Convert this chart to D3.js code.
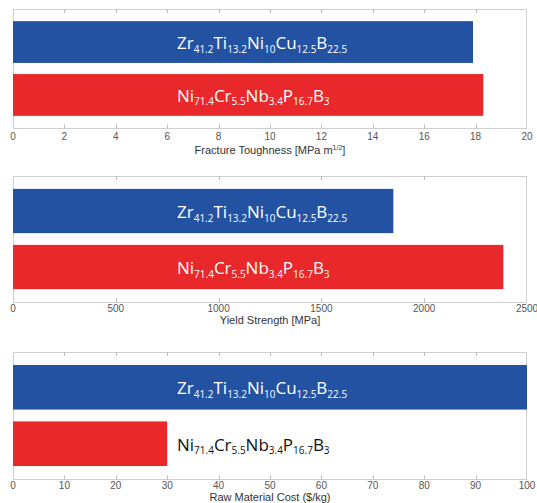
<!DOCTYPE html>
<html>
<head>
<meta charset="utf-8">
<script src="https://cdn.jsdelivr.net/npm/d3@7"></script>
<style>
  body { margin: 0; background: #fff; }
  .tick-label { font-family: "Liberation Sans", Arial, sans-serif; font-size: 10px; fill: #555; }
  .axis-title { font-family: "Liberation Sans", Arial, sans-serif; font-size: 11px; fill: #333; }
  .bar-label { font-family: "Open Sans", sans-serif; font-size: 17px; }
</style>
</head>
<body>
<div id="chart"></div>
<script>
// alloy names, split into [element, subscript] pairs
var alloys = [
  [["Zr", "41.2"], ["Ti", "13.2"], ["Ni", "10"], ["Cu", "12.5"], ["B", "22.5"]],
  [["Ni", "71.4"], ["Cr", "5.5"], ["Nb", "3.4"], ["P", "16.7"], ["B", "3"]]
];
var barColors = ["#2352a2", "#e8282a"];

var toughness = [17.9, 18.3];
var yieldStrength = [1850, 2385];
var rawCost = [100, 30];

var toughnessTicks = [0, 2, 4, 6, 8, 10, 12, 14, 16, 18, 20];
var strengthTicks = [0, 500, 1000, 1500, 2000, 2500];
var costTicks = [0, 10, 20, 30, 40, 50, 60, 70, 80, 90, 100];

var svgWidth = 537;
var svgHeight = 503;

var svg = d3.select("#chart")
  .append("svg")
  .attr("width", svgWidth)
  .attr("height", svgHeight);

// panel layout
var panels = [
  { values: toughness, ticks: toughnessTicks, max: 20, top: 9, bottom: 128, tickY: 140, titleY: 154,
    title: "Fracture Toughness [MPa m", sup: "1/2", after: "]", labelColors: ["#fff", "#fff"] },
  { values: yieldStrength, ticks: strengthTicks, max: 2500, top: 176, bottom: 302, tickY: 312, titleY: 324,
    title: "Yield Strength [MPa]", labelColors: ["#fff", "#fff"] },
  { values: rawCost, ticks: costTicks, max: 100, top: 352, bottom: 479, tickY: 489, titleY: 501,
    title: "Raw Material Cost ($/kg)", labelColors: ["#fff", "#111"] }
];

var left = 13, right = 527;

panels.forEach(function(p) {
  var x = d3.scaleLinear().domain([0, p.max]).range([left, right]);
  var y = d3.scaleBand().domain([0, 1]).range([p.top, p.bottom])
    .paddingInner(0.21).paddingOuter(0.23);

  var g = svg.append("g");

  // frame
  g.append("rect")
    .attr("x", left + 0.5)
    .attr("y", p.top + 0.5)
    .attr("width", right - left - 1)
    .attr("height", p.bottom - p.top)
    .attr("fill", "none")
    .attr("stroke", "#cfcfcf");

  // inner tick marks, top and bottom
  g.selectAll(".tt").data(p.ticks.slice(1, -1)).enter()
    .append("line")
    .attr("x1", d => Math.round(x(d)) + 0.5)
    .attr("x2", d => Math.round(x(d)) + 0.5)
    .attr("y1", p.top)
    .attr("y2", p.top + 4)
    .attr("stroke", "#bbb");
  g.selectAll(".bt").data(p.ticks.slice(1, -1)).enter()
    .append("line")
    .attr("x1", d => Math.round(x(d)) + 0.5)
    .attr("x2", d => Math.round(x(d)) + 0.5)
    .attr("y1", p.bottom + 0.5)
    .attr("y2", p.bottom - 3.5)
    .attr("stroke", "#bbb");

  // bars
  g.selectAll(".bar").data(p.values).enter()
    .append("rect")
    .attr("x", x(0))
    .attr("y", (d, i) => y(i))
    .attr("width", d => x(d) - x(0))
    .attr("height", y.bandwidth())
    .attr("fill", (d, i) => barColors[i]);

  // alloy labels with subscripts
  alloys.forEach(function(parts, i) {
    var t = g.append("text")
      .attr("class", "bar-label")
      .attr("x", 177)
      .attr("y", y(i) + y.bandwidth() / 2 + 7)
      .attr("fill", p.labelColors[i]);
    parts.forEach(function(pt, k) {
      t.append("tspan").attr("dy", k === 0 ? 0 : -3.5).text(pt[0]);
      t.append("tspan")
        .attr("font-size", "10px")
        .attr("dy", 3.5)
        .text(pt[1]);
    });
  });

  // tick labels
  g.selectAll(".tl").data(p.ticks).enter()
    .append("text")
    .attr("class", "tick-label")
    .attr("x", d => x(d))
    .attr("y", p.tickY)
    .attr("text-anchor", "middle")
    .text(d => d);

  // axis title
  var title = g.append("text")
    .attr("class", "axis-title")
    .attr("x", (left + right) / 2)
    .attr("y", p.titleY)
    .attr("text-anchor", "middle")
    .text(p.title);
  if (p.sup) {
    title.append("tspan").attr("font-size", "7px").attr("dy", -4).text(p.sup);
    title.append("tspan").attr("dy", 4).text(p.after);
  }
});
</script>
</body>
</html>
